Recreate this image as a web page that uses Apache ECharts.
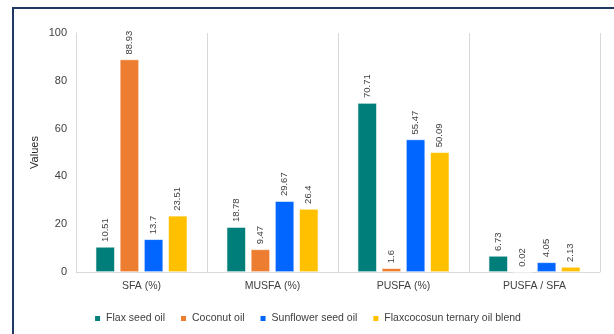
<!DOCTYPE html>
<html><head><meta charset="utf-8">
<script src="https://cdn.jsdelivr.net/npm/echarts@6/dist/echarts.min.js"></script>
<style>
html,body{margin:0;padding:0;background:#fff;overflow:hidden;}
#frame{position:absolute;left:12px;top:7px;width:700px;height:400px;border-left:2px solid #1f3864;border-top:2px solid #1f3864;box-sizing:border-box;}
#c{position:absolute;left:0;top:0;width:614px;height:334px;}
</style></head>
<body>
<div id="frame"></div>
<div id="c"></div>
<script>
const categories = ['SFA (%)', 'MUSFA (%)', 'PUSFA (%)', 'PUSFA / SFA'];
const seriesNames = ['Flax seed oil', 'Coconut oil', 'Sunflower seed oil', 'Flaxcocosun ternary oil blend'];
const flaxSeed = [10.51, 18.78, 70.71, 6.73];
const coconut = [88.93, 9.47, 1.6, 0.02];
const sunflower = [13.7, 29.67, 55.47, 4.05];
const blend = [23.51, 26.4, 50.09, 2.13];
const yTicks = [0, 20, 40, 60, 80, 100];

const colors = ['#007f7a', '#ed7d31', '#0066ff', '#ffc000'];
const data = [flaxSeed, coconut, sunflower, blend];
const font = 'Liberation Sans, Arial, sans-serif';

const chart = echarts.init(document.getElementById('c'));
chart.setOption({
  animation: false,
  textStyle: {fontFamily: font},
  grid: {left: 76, right: 14, top: 33, bottom: 62},
  legend: {
    bottom: 5, left: 'center', itemWidth: 7, itemHeight: 7, itemGap: 14, icon: 'rect',
    textStyle: {fontSize: 10.5, color: '#404040', fontFamily: font},
    data: seriesNames
  },
  xAxis: {
    type: 'category', data: categories,
    axisLine: {lineStyle: {color: '#d9d9d9'}},
    axisTick: {show: false},
    splitLine: {show: true, lineStyle: {color: '#d9d9d9'}},
    axisLabel: {fontSize: 10.5, color: '#404040', margin: 9}
  },
  yAxis: {
    type: 'value', min: 0, max: 100, interval: 20,
    name: 'Values', nameLocation: 'middle', nameGap: 36, nameRotate: 90,
    nameMoveOverlap: false,
    nameTextStyle: {fontSize: 11, color: '#262626'},
    axisLine: {show: true, lineStyle: {color: '#d9d9d9'}},
    axisTick: {show: false},
    splitLine: {show: false},
    axisLabel: {fontSize: 11, color: '#404040', margin: 9,
      formatter: v => yTicks.includes(v) ? String(v) : ''}
  },
  series: seriesNames.map((n, i) => ({
    name: n, type: 'bar', data: data[i],
    barGap: '26%', barCategoryGap: '30%',
    itemStyle: {color: colors[i], borderColor: '#ffffff', borderWidth: 0.6},
    label: {show: true, position: 'top', rotate: 90, align: 'left', verticalAlign: 'middle',
      distance: 5, fontSize: 9.5, color: '#404040', formatter: p => String(p.value)}
  }))
});
</script>
</body></html>
